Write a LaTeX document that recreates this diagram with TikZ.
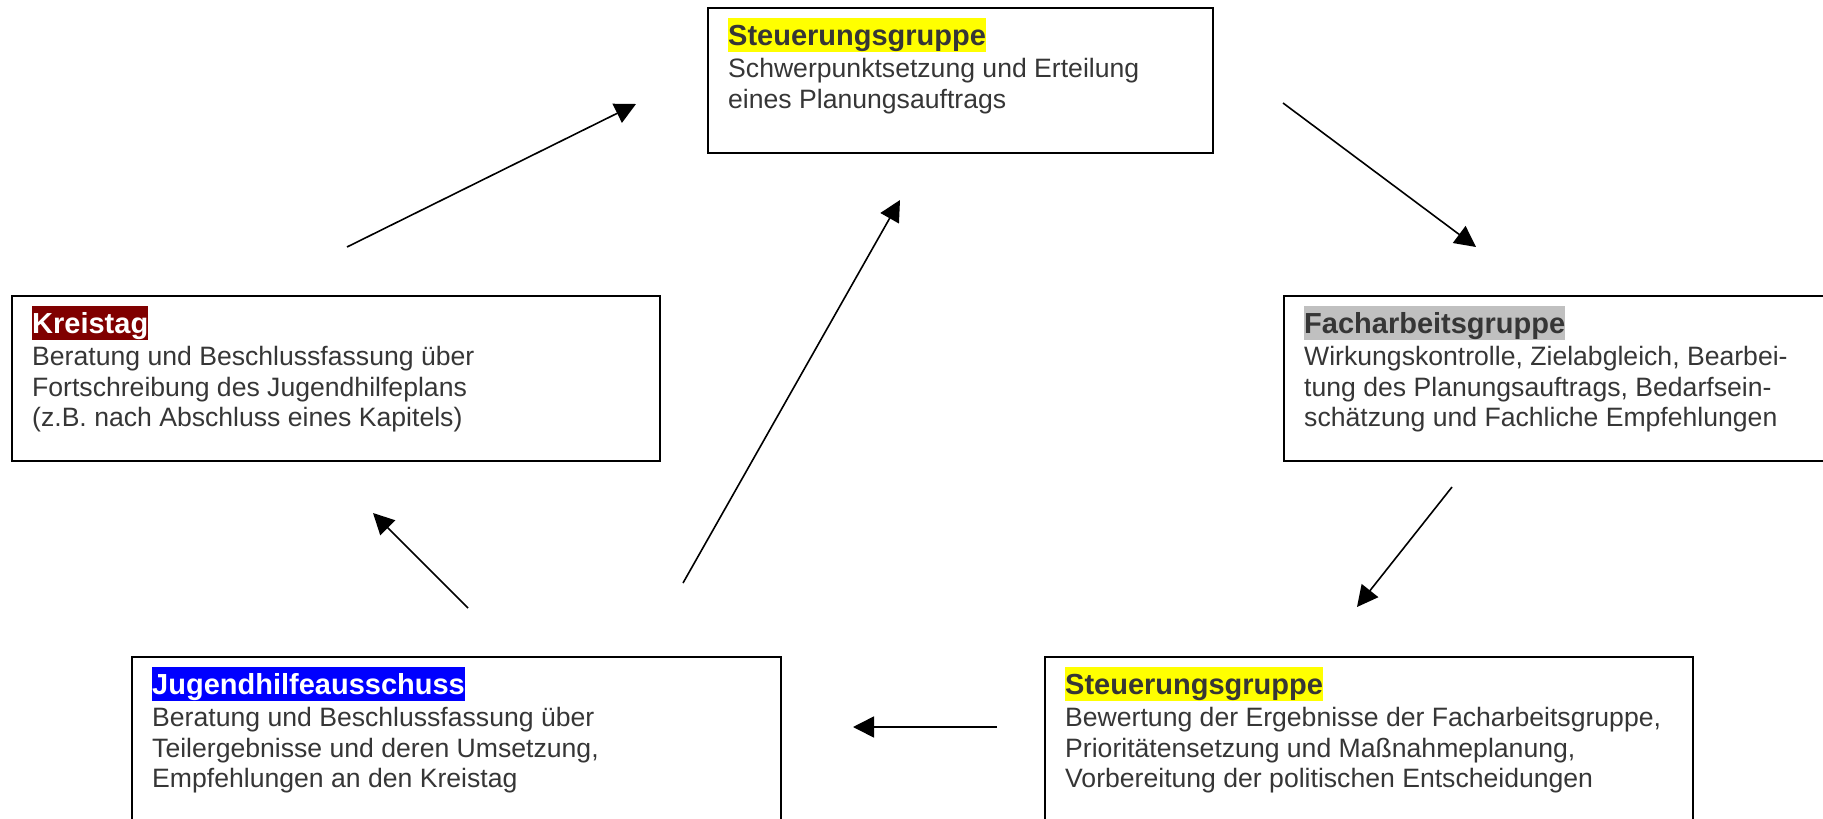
\documentclass[tikz,border=0pt]{standalone}
\usepackage{fontspec}
\setmainfont{Liberation Sans}
\usetikzlibrary{arrows.meta,calc}
\definecolor{txtgray}{HTML}{363636}
\definecolor{hlyellow}{HTML}{FFFF00}
\definecolor{hlred}{HTML}{800000}
\definecolor{hlblue}{HTML}{0000FF}
\definecolor{hlgray}{HTML}{C0C0C0}
\tikzset{
  boxst/.style={draw=black, line width=2pt, rectangle, inner sep=0pt, anchor=north west},
  hdr/.style={anchor=north west, inner sep=0pt, text height=27pt, text depth=7pt,
    font=\fontsize{29}{33}\selectfont\bfseries},
  body/.style={anchor=north west, inner sep=0pt, align=left, text=txtgray,
    font=\fontsize{26.6}{30.6}\selectfont},
  arr/.style={line width=1.6pt, -{Triangle[length=21pt,width=21pt]}}
}
\begin{document}
\begin{tikzpicture}[x=1pt,y=-1pt]
\useasboundingbox (0,0) rectangle (1823,819);
% boxes
\node[boxst, minimum width=505pt, minimum height=145pt] (top) at (707,7) {};
\node[boxst, minimum width=648pt, minimum height=165pt] (kt) at (11,295) {};
\node[boxst, minimum width=560pt, minimum height=165pt] (fa) at (1283,295) {};
\node[boxst, minimum width=649pt, minimum height=200pt] (jha) at (131,656) {};
\node[boxst, minimum width=648pt, minimum height=200pt] (sg) at (1044,656) {};
% headers
\node[hdr, fill=hlyellow, text=txtgray] (topH) at ($(top.north west)+(21,11)$) {Steuerungsgruppe};
\node[hdr, fill=hlred, text=white] (ktH) at ($(kt.north west)+(21,11)$) {Kreistag};
\node[hdr, fill=hlgray, text=txtgray] (faH) at ($(fa.north west)+(21,11)$) {Facharbeitsgruppe};
\node[hdr, fill=hlblue, text=white] (jhaH) at ($(jha.north west)+(21,11)$) {Jugendhilfeausschuss};
\node[hdr, fill=hlyellow, text=txtgray] (sgH) at ($(sg.north west)+(21,11)$) {Steuerungsgruppe};
% bodies
\node[body] (topB) at (topH.south west) {\rule{0pt}{25pt}Schwerpunktsetzung und Erteilung\\eines Planungsauftrags};
\node[body] (ktB) at (ktH.south west) {\rule{0pt}{25pt}Beratung und Beschlussfassung über\\Fortschreibung des Jugendhilfeplans\\(z.B. nach Abschluss eines Kapitels)};
\node[body] (faB) at (faH.south west) {\rule{0pt}{25pt}Wirkungskontrolle, Zielabgleich, Bearbei-\\tung des Planungsauftrags, Bedarfsein-\\schätzung und Fachliche Empfehlungen};
\node[body] (jhaB) at (jhaH.south west) {\rule{0pt}{25pt}Beratung und Beschlussfassung über\\Teilergebnisse und deren Umsetzung,\\Empfehlungen an den Kreistag};
\node[body] (sgB) at (sgH.south west) {\rule{0pt}{25pt}Bewertung der Ergebnisse der Facharbeitsgruppe,\\Prioritätensetzung und Maßnahmeplanung,\\Vorbereitung der politischen Entscheidungen};
% connector end points
\coordinate (a1s) at (347,247);  \coordinate (a1e) at (636,104);
\coordinate (a2s) at (1283,103); \coordinate (a2e) at (1476,247);
\coordinate (a3s) at (1452,487); \coordinate (a3e) at (1357,607);
\coordinate (a4s) at (997,727);  \coordinate (a4e) at (853,727);
\coordinate (a5s) at (468,608);  \coordinate (a5e) at (373,513);
\coordinate (a6s) at (683,583);  \coordinate (a6e) at (900,200);
\draw[arr] (a1s) -- (a1e);
\draw[arr] (a2s) -- (a2e);
\draw[arr] (a3s) -- (a3e);
\draw[arr] (a4s) -- (a4e);
\draw[arr] (a5s) -- (a5e);
\draw[arr] (a6s) -- (a6e);
\end{tikzpicture}
\end{document}
